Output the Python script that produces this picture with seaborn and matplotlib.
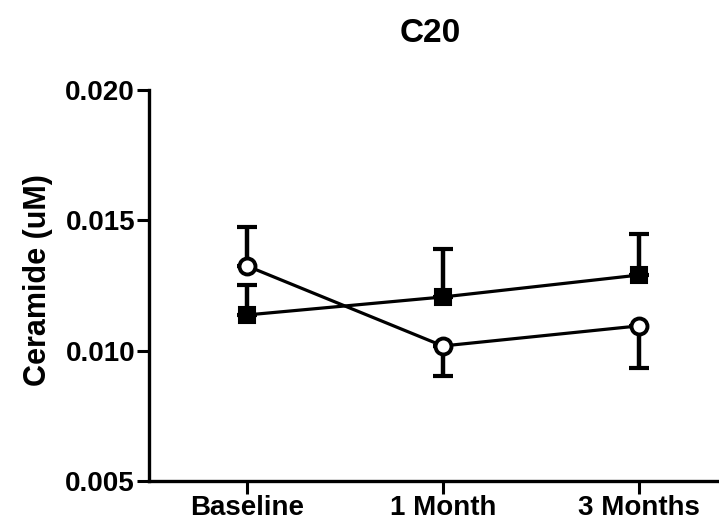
import numpy as np
import pandas as pd
import matplotlib
matplotlib.use("Agg")
import matplotlib.pyplot as plt
import seaborn as sns

# ------------------------------
# data
# ------------------------------
timepoints = ["Baseline", "1 Month", "3 Months"]
square_mean = [0.01137, 0.01206, 0.01290]
square_err = [0.00115, 0.00184, 0.00157]     # upper bars only
circle_mean = [0.01325, 0.01018, 0.01095]
circle_err_up = [0.00149, 0.0, 0.0]
circle_err_down = [0.0, 0.00115, 0.00162]

df = pd.DataFrame({
    "pos": list(range(len(timepoints))) * 2,
    "value": square_mean + circle_mean,
    "group": ["square"] * 3 + ["circle"] * 3,
})

sns.set_theme(style="ticks")
plt.rcParams["font.family"] = ["Liberation Sans", "DejaVu Sans"]
plt.rcParams["font.weight"] = "bold"
for key in ["text.color", "axes.labelcolor", "xtick.color", "ytick.color", "axes.edgecolor"]:
    plt.rcParams[key] = "black"

W, H = 719, 524
fig = plt.figure(figsize=(W / 100, H / 100), dpi=100)
# axes box in pixels: x 149..719, y 90..481
ax = fig.add_axes([149 / W, 1 - 481 / H, (W - 149) / W, (481 - 90) / H])

# error bars first so markers sit on top
pos = np.arange(len(timepoints))
ax.errorbar(pos, square_mean, yerr=[np.zeros(3), square_err], fmt="none",
            ecolor="black", elinewidth=3.2, capsize=7.5, capthick=3.0, zorder=2)
ax.errorbar(pos, circle_mean, yerr=[circle_err_down, circle_err_up], fmt="none",
            ecolor="black", elinewidth=3.2, capsize=7.5, capthick=3.0, zorder=2)

sns.lineplot(data=df[df.group == "square"], x="pos", y="value", ax=ax,
             color="black", linewidth=2.3, marker="s", markersize=11,
             markerfacecolor="black", markeredgecolor="black",
             markeredgewidth=1.5, zorder=3)
sns.lineplot(data=df[df.group == "circle"], x="pos", y="value", ax=ax,
             color="black", linewidth=2.3, marker="o", markersize=11.5,
             markerfacecolor="white", markeredgecolor="black",
             markeredgewidth=2.8, zorder=3)

ax.set_xlim(-0.5, 2.41)
ax.set_ylim(0.005, 0.020)
ax.set_xticks(pos)
ax.set_xticklabels(timepoints)
ax.set_yticks([0.005, 0.010, 0.015, 0.020])
ax.set_yticklabels(["0.005", "0.010", "0.015", "0.020"])
ax.set_xlabel("")
ax.set_ylabel("Ceramide (uM)", fontsize=22, fontweight="bold")
ax.yaxis.set_label_coords(-(149 - 53) / 570, (481 - 280) / 391)
ax.set_title("C20", fontsize=24, fontweight="bold", pad=0,
             x=(430 - 149) / 570, y=(481 - 42) / 391)

for side in ["top", "right"]:
    ax.spines[side].set_visible(False)
for side in ["left", "bottom"]:
    ax.spines[side].set_linewidth(2.4)
ax.tick_params(axis="both", length=9, width=2.2, labelsize=20, pad=1)
for lbl in ax.get_xticklabels() + ax.get_yticklabels():
    lbl.set_fontweight("bold")

fig.savefig("out.png", dpi=100)
